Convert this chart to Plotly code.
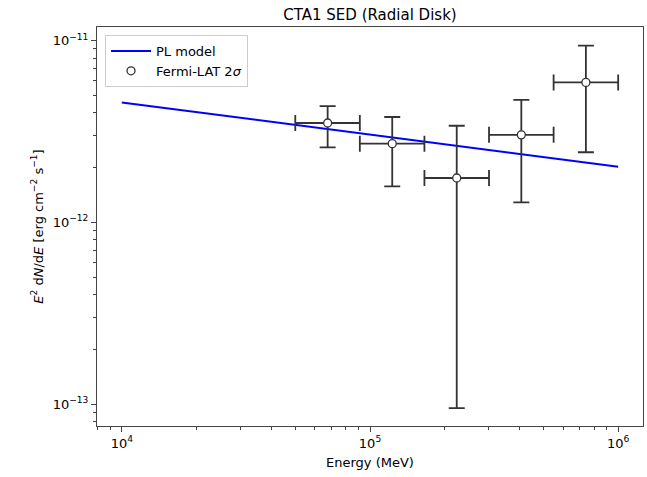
import plotly.graph_objects as go

# ---- data ----
energy = [67500, 122900, 223600, 407100, 741100]          # bin centres (MeV)
e_lo = [50000, 91000, 165700, 301700, 549300]             # bin low edges
e_hi = [91000, 165700, 301700, 549300, 1000000]           # bin high edges
flux = [3.52e-12, 2.71e-12, 1.754e-12, 3.03e-12, 5.89e-12]   # E^2 dN/dE
flux_hi = [4.36e-12, 3.80e-12, 3.40e-12, 4.72e-12, 9.39e-12]
flux_lo = [2.585e-12, 1.578e-12, 9.49e-14, 1.288e-12, 2.43e-12]

model_e = [1e4, 1e6]
model_flux = [4.57e-12, 2.02e-12]

xtick_vals = [1e4, 1e5, 1e6]
xtick_text = ["10<sup>4</sup>", "10<sup>5</sup>", "10<sup>6</sup>"]
ytick_vals = [1e-13, 1e-12, 1e-11]
ytick_text = ["10<sup>−13</sup>", "10<sup>−12</sup>", "10<sup>−11</sup>"]

FONT = "DejaVu Sans"
ERRC = "#333333"

fig = go.Figure()
fig.add_trace(go.Scatter(
    x=model_e, y=model_flux, mode="lines", name="PL model",
    line=dict(color="#0000ff", width=2),
))
fig.add_trace(go.Scatter(
    x=energy, y=flux, mode="markers", name="Fermi-LAT 2<i>σ</i>",
    marker=dict(symbol="circle", size=8, color="white",
                line=dict(color=ERRC, width=1.3)),
    error_x=dict(type="data", symmetric=False,
                 array=[h - e for h, e in zip(e_hi, energy)],
                 arrayminus=[e - l for l, e in zip(e_lo, energy)],
                 color=ERRC, thickness=1.8, width=8),
    error_y=dict(type="data", symmetric=False,
                 array=[h - f for h, f in zip(flux_hi, flux)],
                 arrayminus=[f - l for l, f in zip(flux_lo, flux)],
                 color=ERRC, thickness=1.8, width=8),
))

xminor = [m * 10 ** d for d in range(3, 7) for m in range(2, 10)]
yminor = [m * 10.0 ** d for d in range(-14, -10) for m in range(2, 10)]

axis_common = dict(
    showline=True, linecolor="#444444", linewidth=1, mirror=True,
    ticks="outside", ticklen=5, tickwidth=1, tickcolor="#444444",
    showgrid=False, zeroline=False, tickmode="array",
    tickfont=dict(family=FONT, size=13, color="black"),
)

fig.update_layout(
    width=647, height=477,
    margin=dict(l=97, r=4, t=27, b=51),
    paper_bgcolor="white", plot_bgcolor="white",
    font=dict(family=FONT, size=13, color="black"),
    title=dict(text="CTA1 SED (Radial Disk)", x=0.5, xref="paper",
               xanchor="center", y=1 - 15 / 477, yanchor="middle",
               font=dict(family=FONT, size=15, color="black")),
    xaxis=dict(type="log", range=[3.9, 6.1],
               tickvals=xtick_vals, ticktext=xtick_text,
               title=dict(text="Energy (MeV)", standoff=8,
                          font=dict(family=FONT, size=13)),
               minor=dict(tickvals=xminor, ticks="outside", ticklen=3,
                          tickcolor="#444444", showgrid=False),
               **axis_common),
    yaxis=dict(type="log", range=[-13.121, -10.925],
               tickvals=ytick_vals, ticktext=ytick_text,
               title=dict(text="<i>E</i><sup>2</sup> d<i>N</i>/d<i>E</i> [erg cm<sup>−2</sup> s<sup>−1</sup>]",
                          standoff=6, font=dict(family=FONT, size=13)),
               minor=dict(tickvals=yminor, ticks="outside", ticklen=3,
                          tickcolor="#444444", showgrid=False),
               **axis_common),
    legend=dict(x=0.0147, y=0.98, xanchor="left", yanchor="top",
                bgcolor="rgba(255,255,255,0.85)", bordercolor="#cccccc",
                borderwidth=1, font=dict(family=FONT, size=13),
                itemwidth=40),
    showlegend=True,
)

fig.write_html("out.html")
